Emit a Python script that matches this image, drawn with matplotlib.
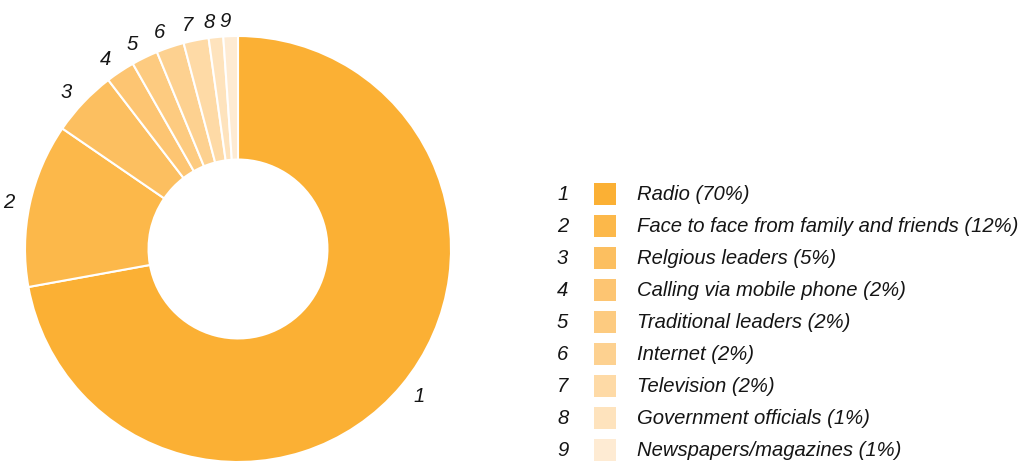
import matplotlib
matplotlib.use("Agg")
import matplotlib.pyplot as plt
from matplotlib.patches import Rectangle
import numpy as np

plt.rcParams['font.family'] = ['Liberation Sans', 'DejaVu Sans']

numbers = ["1", "2", "3", "4", "5", "6", "7", "8", "9"]
categories = ["Radio", "Face to face from family and friends", "Relgious leaders",
              "Calling via mobile phone", "Traditional leaders", "Internet",
              "Television", "Government officials", "Newspapers/magazines"]
pct_labels = ["70%", "12%", "5%", "2%", "2%", "2%", "2%", "1%", "1%"]
values = [72.0, 12.4, 5.0, 2.2, 2.0, 2.1, 1.9, 1.1, 1.1]
colors = ["#FBB034", "#FCB84A", "#FCBF60", "#FDC572", "#FDCB80", "#FDD190",
          "#FEDAA6", "#FEE3BD", "#FEEBD3"]

W, H = 1020, 464
fig = plt.figure(figsize=(W / 100, H / 100), dpi=100)
FS = 14.6
TC = "#151515"

cx, cy, R = 238, 250, 213
ax = fig.add_axes([(cx - R) / W, (H - cy - R) / H, 2 * R / W, 2 * R / H])
wedges, texts = ax.pie(values, colors=colors, startangle=90, counterclock=False,
                       labels=numbers, labeldistance=1.075,
                       wedgeprops=dict(width=0.58, edgecolor="white", linewidth=1.5),
                       textprops=dict(fontsize=FS, style="italic", color=TC))
ax.set_xlim(-1, 1)
ax.set_ylim(-1, 1)
ax.set_aspect("equal")
ax.axis("off")

# legend
lax = fig.add_axes([0, 0, 1, 1])
lax.set_xlim(0, W)
lax.set_ylim(H, 0)
lax.axis("off")
y0, dy = 195, 32
for i, (n, c, col, p) in enumerate(zip(numbers, categories, colors, pct_labels)):
    y = y0 + i * dy
    lax.text(557, y, n, fontsize=FS, style="italic", color=TC, va="center", ha="left")
    lax.add_patch(Rectangle((594, y - 11), 22, 22, facecolor=col, edgecolor="none"))
    lax.text(637, y, f"{c} ({p})", fontsize=FS, style="italic", color=TC,
             va="center", ha="left")

fig.savefig("out.png", dpi=100)
